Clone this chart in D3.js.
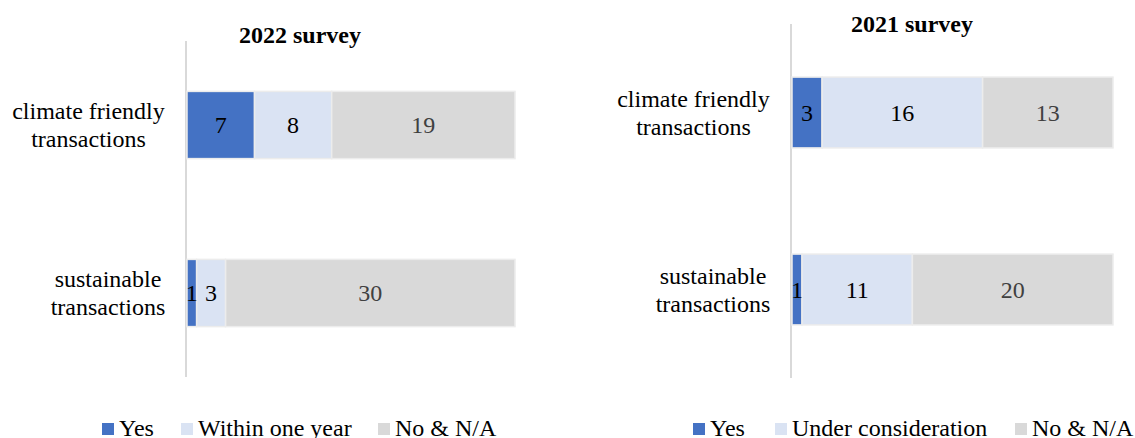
<!DOCTYPE html>
<head>
<meta charset="utf-8">
<script src="https://cdn.jsdelivr.net/npm/d3@7"></script>
</head>
<body style="margin:0">
<script>

// --- Data ---
let categories = ["climate friendly transactions", "sustainable transactions"];
let catLines = [["climate friendly", "transactions"], ["sustainable", "transactions"]];

let series2022 = ["Yes", "Within one year", "No & N/A"];
let yes2022 = [7, 1],
    within2022 = [8, 3],
    no2022 = [19, 30];

let series2021 = ["Yes", "Under consideration", "No & N/A"];
let yes2021 = [3, 1],
    consider2021 = [16, 11],
    no2021 = [13, 20];

let colors = ["#4472c4", "#dae3f3", "#d9d9d9"],
    labelColors = ["#000", "#000", "#404040"];

// --- Layout ---
let svg = d3.select("body").append("svg")
    .attr("width", 1135)
    .attr("height", 438);

// label block centers (dx from axis) and legend swatch offsets (from panel center)
let labelDx = [-98.5, -79];

let panels = [
  {title: "2022 survey", keys: series2022, cols: [yes2022, within2022, no2022],
   cx: 300, titleY: 43, left: 187, right: 515, top: 41, bottom: 377,
   legendDx: [-198, -119, 78]},
  {title: "2021 survey", keys: series2021, cols: [yes2021, consider2021, no2021],
   cx: 912, titleY: 32, left: 792, right: 1113, top: 24, bottom: 378,
   legendDx: [-219, -137, 103]}
];

let labels = [];   // text specs, drawn last

panels.forEach(drawPanel);

// all texts appended straight to the svg
labels.forEach(function(t) {
  let el = svg.append("text")
      .attr("x", t.x)
      .attr("y", t.y)
      .attr("text-anchor", t.anchor)
      .attr("fill", t.fill)
      .style("font-family", "'Liberation Serif'")
      .style("font-size", "24px")
      .text(t.text);
  if (t.dy) el.attr("dy", t.dy);
  if (t.bold) el.style("font-weight", "bold");
});

function drawPanel(p) {
  // table for d3.stack
  let rows = categories.map(function(c, i) {
    let r = {cat: c, lines: catLines[i]};
    p.keys.forEach(function(k, j) { r[k] = p.cols[j][i]; });
    return r;
  });

  let stacked = d3.stack().keys(p.keys)(rows);

  let x = d3.scaleLinear()
      .domain([0, d3.max(rows, function(d) { return d3.sum(p.keys, function(k) { return d[k]; }); })])
      .range([p.left, p.right]);

  let y = d3.scaleBand()
      .domain(categories)
      .range([p.top, p.bottom])
      .paddingInner(0.6)
      .paddingOuter(0.3);

  // category axis line
  svg.append("line")
      .attr("x1", p.left - 1)
      .attr("x2", p.left - 1)
      .attr("y1", y.range()[0])
      .attr("y2", y.range()[1])
      .attr("stroke", "#d9d9d9")
      .attr("stroke-width", 2);

  // bars
  let layer = svg.selectAll(null)
    .data(stacked)
    .enter().append("g")
      .attr("fill", function(d, i) { return colors[i]; });

  layer.selectAll("rect")
    .data(function(d) { return d; })
    .enter().append("rect")
      .attr("x", function(d) { return x(d[0]); })
      .attr("y", function(d) { return y(d.data.cat); })
      .attr("width", function(d) { return x(d[1]) - x(d[0]); })
      .attr("height", y.bandwidth())
      .attr("stroke", "#ececec")
      .attr("stroke-width", 1.5);

  // values on bars
  stacked.forEach(function(s, i) {
    s.forEach(function(d) {
      labels.push({text: d[1] - d[0], anchor: "middle", fill: labelColors[i],
        x: (x(d[0]) + x(d[1])) / 2, y: y(d.data.cat) + y.bandwidth() / 2, dy: "0.34em"});
    });
  });

  // two-line category labels
  rows.forEach(function(r, i) {
    let cy = y(r.cat) + y.bandwidth() / 2;
    r.lines.forEach(function(line, k) {
      labels.push({text: line, anchor: "middle", fill: "#000",
        x: p.left + labelDx[i], y: cy + (k - (r.lines.length - 1) / 2) * 28, dy: "0.35em"});
    });
  });

  // title
  labels.push({text: p.title, anchor: "middle", fill: "#000", x: p.cx, y: p.titleY, bold: true});

  // legend
  p.keys.forEach(function(k, i) {
    let lx = p.cx + p.legendDx[i];
    svg.append("rect")
        .attr("x", lx)
        .attr("y", 423)
        .attr("width", 12)
        .attr("height", 12)
        .attr("fill", colors[i]);
    labels.push({text: k, anchor: "start", fill: "#000", x: lx + 17, y: 436});
  });
}
</script>
</body>
